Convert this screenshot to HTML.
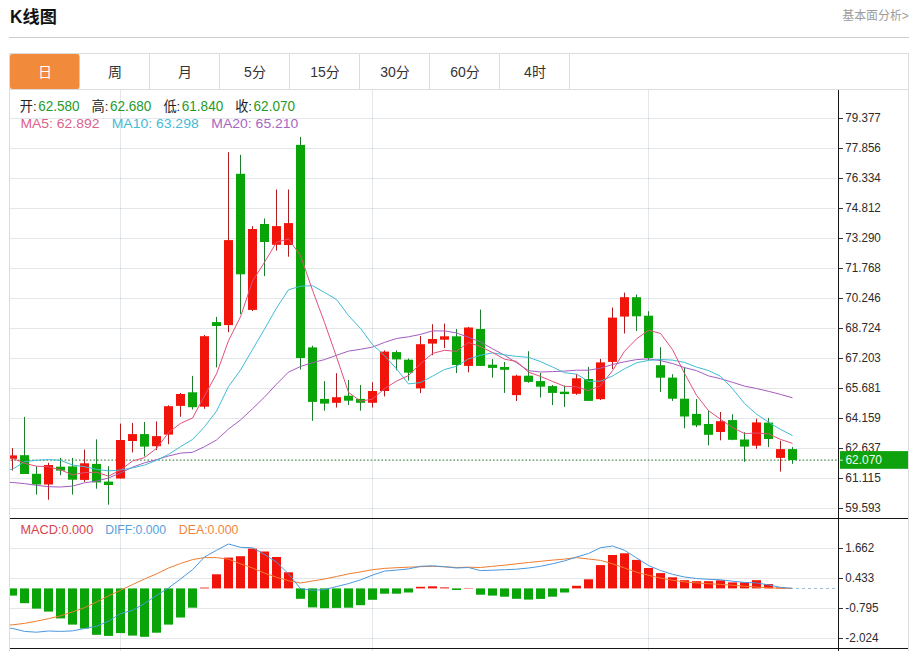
<!DOCTYPE html>
<html lang="zh-CN"><head><meta charset="utf-8"><title>K线图</title>
<style>html,body{margin:0;padding:0;background:#fff;}body{width:914px;height:651px;overflow:hidden;font-family:"Liberation Sans","Noto Sans CJK SC",sans-serif;}svg{display:block;}text{font-family:"Liberation Sans","Noto Sans CJK SC",sans-serif;}</style></head><body>
<svg width="914" height="651" viewBox="0 0 914 651">
<defs><clipPath id="cp"><rect x="10" y="90" width="828" height="561"/></clipPath></defs>
<rect width="914" height="651" fill="#fff"/>
<text x="10.1" y="22.8" font-size="17.5" font-weight="bold" fill="#111" textLength="46.7" lengthAdjust="spacingAndGlyphs">K线图</text>
<text x="842.3" y="20.2" font-size="12" fill="#9c9c9c" textLength="66.5" lengthAdjust="spacingAndGlyphs">基本面分析&gt;</text>
<rect x="9" y="37" width="900" height="1" fill="#ccc"/>
<rect x="9.5" y="53.5" width="899" height="36" fill="#fff" stroke="#dcdcdc" stroke-width="1"/>
<rect x="10" y="54" width="69.5" height="35" rx="2.2" fill="#f18a3b"/>
<text x="45" y="77" font-size="14" fill="#fff" text-anchor="middle">日</text>
<text x="115" y="77" font-size="14" fill="#333" text-anchor="middle">周</text>
<rect x="149" y="54" width="1" height="35" fill="#dcdcdc"/>
<text x="185" y="77" font-size="14" fill="#333" text-anchor="middle">月</text>
<rect x="219" y="54" width="1" height="35" fill="#dcdcdc"/>
<text x="255" y="77" font-size="14" fill="#333" text-anchor="middle">5分</text>
<rect x="289" y="54" width="1" height="35" fill="#dcdcdc"/>
<text x="325" y="77" font-size="14" fill="#333" text-anchor="middle">15分</text>
<rect x="359" y="54" width="1" height="35" fill="#dcdcdc"/>
<text x="395" y="77" font-size="14" fill="#333" text-anchor="middle">30分</text>
<rect x="429" y="54" width="1" height="35" fill="#dcdcdc"/>
<text x="465" y="77" font-size="14" fill="#333" text-anchor="middle">60分</text>
<rect x="499" y="54" width="1" height="35" fill="#dcdcdc"/>
<text x="535" y="77" font-size="14" fill="#333" text-anchor="middle">4时</text>
<rect x="569" y="54" width="1" height="35" fill="#dcdcdc"/>
<rect x="9" y="90" width="1" height="561" fill="#dcdcdc"/>
<rect x="908" y="54" width="1" height="597" fill="#dcdcdc"/>
<rect x="10" y="118" width="826" height="1" fill="#7e8c9e" fill-opacity="0.21"/>
<rect x="10" y="148" width="826" height="1" fill="#7e8c9e" fill-opacity="0.21"/>
<rect x="10" y="178" width="826" height="1" fill="#7e8c9e" fill-opacity="0.21"/>
<rect x="10" y="208" width="826" height="1" fill="#7e8c9e" fill-opacity="0.21"/>
<rect x="10" y="238" width="826" height="1" fill="#7e8c9e" fill-opacity="0.21"/>
<rect x="10" y="268" width="826" height="1" fill="#7e8c9e" fill-opacity="0.21"/>
<rect x="10" y="298" width="826" height="1" fill="#7e8c9e" fill-opacity="0.21"/>
<rect x="10" y="328" width="826" height="1" fill="#7e8c9e" fill-opacity="0.21"/>
<rect x="10" y="358" width="826" height="1" fill="#7e8c9e" fill-opacity="0.21"/>
<rect x="10" y="388" width="826" height="1" fill="#7e8c9e" fill-opacity="0.21"/>
<rect x="10" y="418" width="826" height="1" fill="#7e8c9e" fill-opacity="0.21"/>
<rect x="10" y="448" width="826" height="1" fill="#7e8c9e" fill-opacity="0.21"/>
<rect x="10" y="478" width="826" height="1" fill="#7e8c9e" fill-opacity="0.21"/>
<rect x="10" y="508" width="826" height="1" fill="#7e8c9e" fill-opacity="0.21"/>
<rect x="10" y="548" width="826" height="1" fill="#7e8c9e" fill-opacity="0.21"/>
<rect x="10" y="578" width="826" height="1" fill="#7e8c9e" fill-opacity="0.21"/>
<rect x="10" y="608" width="826" height="1" fill="#7e8c9e" fill-opacity="0.21"/>
<rect x="10" y="638" width="826" height="1" fill="#7e8c9e" fill-opacity="0.21"/>
<rect x="120" y="90" width="1" height="561" fill="#7e8c9e" fill-opacity="0.21"/>
<rect x="372" y="90" width="1" height="561" fill="#7e8c9e" fill-opacity="0.21"/>
<rect x="648" y="90" width="1" height="561" fill="#7e8c9e" fill-opacity="0.21"/>
<g clip-path="url(#cp)">
<line x1="10.6" y1="460.1" x2="838" y2="460.1" stroke="#4a8c50" stroke-width="1.15" stroke-dasharray="1.6 2"/>
<rect x="12" y="448.1" width="1" height="22.5" fill="#b01c20"/>
<rect x="8" y="455.4" width="9" height="3.4" fill="#f0140a"/>
<rect x="24" y="416.9" width="1" height="57.1" fill="#1e7a2c"/>
<rect x="20" y="455.2" width="9" height="18.8" fill="#08a408"/>
<rect x="36" y="466.2" width="1" height="28.4" fill="#1e7a2c"/>
<rect x="32" y="473.8" width="9" height="10.7" fill="#08a408"/>
<rect x="48" y="462.8" width="1" height="36.9" fill="#b01c20"/>
<rect x="44" y="465.0" width="9" height="19.5" fill="#f0140a"/>
<rect x="60" y="457.9" width="1" height="17.3" fill="#1e7a2c"/>
<rect x="56" y="466.7" width="9" height="3.9" fill="#08a408"/>
<rect x="72" y="457.9" width="1" height="36.7" fill="#1e7a2c"/>
<rect x="68" y="466.4" width="9" height="13.3" fill="#08a408"/>
<rect x="84" y="449.5" width="1" height="32.4" fill="#b01c20"/>
<rect x="80" y="463.3" width="9" height="16.6" fill="#f0140a"/>
<rect x="96" y="439.4" width="1" height="49.3" fill="#1e7a2c"/>
<rect x="92" y="463.9" width="9" height="18.5" fill="#08a408"/>
<rect x="108" y="466.2" width="1" height="38.5" fill="#1e7a2c"/>
<rect x="104" y="481.6" width="9" height="3.4" fill="#08a408"/>
<rect x="120" y="423.6" width="1" height="54.9" fill="#b01c20"/>
<rect x="116" y="440.0" width="9" height="38.5" fill="#f0140a"/>
<rect x="132" y="422.9" width="1" height="29.5" fill="#b01c20"/>
<rect x="128" y="434.1" width="9" height="6.9" fill="#f0140a"/>
<rect x="144" y="422.0" width="1" height="34.5" fill="#1e7a2c"/>
<rect x="140" y="434.1" width="9" height="12.5" fill="#08a408"/>
<rect x="156" y="421.4" width="1" height="28.7" fill="#b01c20"/>
<rect x="152" y="436.1" width="9" height="10.1" fill="#f0140a"/>
<rect x="168" y="405.3" width="1" height="38.9" fill="#b01c20"/>
<rect x="164" y="406.2" width="9" height="28.4" fill="#f0140a"/>
<rect x="180" y="393.0" width="1" height="23.8" fill="#b01c20"/>
<rect x="176" y="394.0" width="9" height="11.9" fill="#f0140a"/>
<rect x="192" y="375.9" width="1" height="33.6" fill="#1e7a2c"/>
<rect x="188" y="392.3" width="9" height="14.9" fill="#08a408"/>
<rect x="204" y="335.0" width="1" height="73.8" fill="#b01c20"/>
<rect x="200" y="336.2" width="9" height="70.5" fill="#f0140a"/>
<rect x="216" y="316.9" width="1" height="50.5" fill="#1e7a2c"/>
<rect x="212" y="322.1" width="9" height="3.9" fill="#08a408"/>
<rect x="228" y="152.2" width="1" height="180.0" fill="#b01c20"/>
<rect x="224" y="240.1" width="9" height="85.0" fill="#f0140a"/>
<rect x="240" y="154.9" width="1" height="159.2" fill="#1e7a2c"/>
<rect x="236" y="173.8" width="9" height="100.5" fill="#08a408"/>
<rect x="252" y="226.1" width="1" height="84.9" fill="#b01c20"/>
<rect x="248" y="229.0" width="9" height="80.9" fill="#f0140a"/>
<rect x="264" y="218.5" width="1" height="57.6" fill="#1e7a2c"/>
<rect x="260" y="224.0" width="9" height="18.0" fill="#08a408"/>
<rect x="276" y="189.5" width="1" height="61.1" fill="#b01c20"/>
<rect x="272" y="226.1" width="9" height="18.7" fill="#f0140a"/>
<rect x="288" y="189.5" width="1" height="67.2" fill="#b01c20"/>
<rect x="284" y="223.1" width="9" height="21.9" fill="#f0140a"/>
<rect x="300" y="136.9" width="1" height="232.6" fill="#1e7a2c"/>
<rect x="296" y="144.9" width="9" height="213.1" fill="#08a408"/>
<rect x="312" y="345.7" width="1" height="75.1" fill="#1e7a2c"/>
<rect x="308" y="347.4" width="9" height="54.5" fill="#08a408"/>
<rect x="324" y="381.1" width="1" height="29.6" fill="#1e7a2c"/>
<rect x="320" y="398.9" width="9" height="4.7" fill="#08a408"/>
<rect x="336" y="373.2" width="1" height="34.3" fill="#b01c20"/>
<rect x="332" y="397.2" width="9" height="5.6" fill="#f0140a"/>
<rect x="348" y="380.0" width="1" height="25.0" fill="#1e7a2c"/>
<rect x="344" y="395.7" width="9" height="5.0" fill="#08a408"/>
<rect x="360" y="385.0" width="1" height="25.7" fill="#1e7a2c"/>
<rect x="356" y="398.9" width="9" height="3.9" fill="#08a408"/>
<rect x="372" y="382.2" width="1" height="25.3" fill="#b01c20"/>
<rect x="368" y="391.0" width="9" height="11.8" fill="#f0140a"/>
<rect x="384" y="350.4" width="1" height="46.0" fill="#b01c20"/>
<rect x="380" y="351.6" width="9" height="39.4" fill="#f0140a"/>
<rect x="396" y="350.4" width="1" height="19.9" fill="#1e7a2c"/>
<rect x="392" y="352.1" width="9" height="7.3" fill="#08a408"/>
<rect x="408" y="358.5" width="1" height="22.0" fill="#1e7a2c"/>
<rect x="404" y="359.7" width="9" height="13.0" fill="#08a408"/>
<rect x="420" y="336.0" width="1" height="57.1" fill="#b01c20"/>
<rect x="416" y="344.2" width="9" height="44.2" fill="#f0140a"/>
<rect x="432" y="324.2" width="1" height="31.0" fill="#b01c20"/>
<rect x="428" y="339.0" width="9" height="4.6" fill="#f0140a"/>
<rect x="444" y="323.6" width="1" height="24.5" fill="#b01c20"/>
<rect x="440" y="336.3" width="9" height="3.4" fill="#f0140a"/>
<rect x="456" y="329.0" width="1" height="44.0" fill="#1e7a2c"/>
<rect x="452" y="336.3" width="9" height="28.7" fill="#08a408"/>
<rect x="468" y="327.0" width="1" height="45.3" fill="#b01c20"/>
<rect x="464" y="327.5" width="9" height="38.4" fill="#f0140a"/>
<rect x="480" y="309.6" width="1" height="56.3" fill="#1e7a2c"/>
<rect x="476" y="329.0" width="9" height="36.9" fill="#08a408"/>
<rect x="492" y="359.1" width="1" height="18.6" fill="#1e7a2c"/>
<rect x="488" y="364.7" width="9" height="3.2" fill="#08a408"/>
<rect x="504" y="362.0" width="1" height="30.9" fill="#1e7a2c"/>
<rect x="500" y="367.0" width="9" height="2.8" fill="#08a408"/>
<rect x="516" y="374.8" width="1" height="26.2" fill="#b01c20"/>
<rect x="512" y="375.7" width="9" height="19.4" fill="#f0140a"/>
<rect x="528" y="351.2" width="1" height="31.6" fill="#1e7a2c"/>
<rect x="524" y="375.7" width="9" height="6.2" fill="#08a408"/>
<rect x="540" y="373.0" width="1" height="24.5" fill="#1e7a2c"/>
<rect x="536" y="381.1" width="9" height="5.6" fill="#08a408"/>
<rect x="552" y="385.0" width="1" height="20.0" fill="#1e7a2c"/>
<rect x="548" y="386.1" width="9" height="6.8" fill="#08a408"/>
<rect x="564" y="385.6" width="1" height="21.3" fill="#1e7a2c"/>
<rect x="560" y="391.7" width="9" height="2.4" fill="#08a408"/>
<rect x="576" y="374.2" width="1" height="20.6" fill="#b01c20"/>
<rect x="572" y="378.3" width="9" height="15.5" fill="#f0140a"/>
<rect x="588" y="366.9" width="1" height="34.0" fill="#1e7a2c"/>
<rect x="584" y="379.0" width="9" height="21.9" fill="#08a408"/>
<rect x="600" y="358.8" width="1" height="41.2" fill="#b01c20"/>
<rect x="596" y="362.4" width="9" height="36.8" fill="#f0140a"/>
<rect x="612" y="307.5" width="1" height="61.5" fill="#b01c20"/>
<rect x="608" y="317.6" width="9" height="44.3" fill="#f0140a"/>
<rect x="624" y="292.6" width="1" height="40.9" fill="#b01c20"/>
<rect x="620" y="297.2" width="9" height="19.4" fill="#f0140a"/>
<rect x="636" y="294.6" width="1" height="36.4" fill="#1e7a2c"/>
<rect x="632" y="297.2" width="9" height="19.1" fill="#08a408"/>
<rect x="648" y="311.2" width="1" height="49.0" fill="#1e7a2c"/>
<rect x="644" y="315.7" width="9" height="42.3" fill="#08a408"/>
<rect x="660" y="347.2" width="1" height="44.7" fill="#1e7a2c"/>
<rect x="656" y="365.2" width="9" height="12.5" fill="#08a408"/>
<rect x="672" y="374.2" width="1" height="26.7" fill="#1e7a2c"/>
<rect x="668" y="377.6" width="9" height="21.1" fill="#08a408"/>
<rect x="684" y="367.3" width="1" height="61.0" fill="#1e7a2c"/>
<rect x="680" y="398.7" width="9" height="17.8" fill="#08a408"/>
<rect x="696" y="399.0" width="1" height="28.1" fill="#1e7a2c"/>
<rect x="692" y="413.9" width="9" height="11.5" fill="#08a408"/>
<rect x="708" y="410.4" width="1" height="35.0" fill="#1e7a2c"/>
<rect x="704" y="424.0" width="9" height="10.8" fill="#08a408"/>
<rect x="720" y="412.0" width="1" height="28.3" fill="#b01c20"/>
<rect x="716" y="421.2" width="9" height="10.8" fill="#f0140a"/>
<rect x="732" y="414.2" width="1" height="26.0" fill="#1e7a2c"/>
<rect x="728" y="420.1" width="9" height="19.7" fill="#08a408"/>
<rect x="744" y="432.2" width="1" height="29.6" fill="#1e7a2c"/>
<rect x="740" y="439.5" width="9" height="7.1" fill="#08a408"/>
<rect x="756" y="418.7" width="1" height="30.1" fill="#b01c20"/>
<rect x="752" y="422.4" width="9" height="23.3" fill="#f0140a"/>
<rect x="768" y="417.9" width="1" height="29.2" fill="#1e7a2c"/>
<rect x="764" y="422.6" width="9" height="16.4" fill="#08a408"/>
<rect x="780" y="440.7" width="1" height="30.9" fill="#b01c20"/>
<rect x="776" y="449.1" width="9" height="8.8" fill="#f0140a"/>
<rect x="792" y="447.1" width="1" height="16.7" fill="#1e7a2c"/>
<rect x="788" y="449.1" width="9" height="11.0" fill="#08a408"/>
<polyline points="0.5,482.0 12.5,482.5 24.5,483.6 36.5,485.3 48.5,486.7 60.5,487.0 72.5,486.1 84.5,482.8 96.5,481.1 108.5,478.0 120.5,473.0 132.5,467.2 144.5,462.8 156.5,459.7 168.5,456.0 180.5,453.1 192.5,452.3 204.5,446.7 216.5,440.0 228.5,429.0 240.5,420.0 252.5,408.7 264.5,397.1 276.5,384.2 288.5,372.1 300.5,366.5 312.5,362.6 324.5,359.6 336.5,355.3 348.5,351.1 360.5,349.3 372.5,347.1 384.5,342.4 396.5,338.5 408.5,336.8 420.5,334.4 432.5,330.9 444.5,330.9 456.5,332.9 468.5,337.3 480.5,341.9 492.5,348.8 504.5,355.2 516.5,362.7 528.5,370.6 540.5,372.0 552.5,371.6 564.5,371.1 576.5,370.2 588.5,370.2 600.5,368.2 612.5,364.5 624.5,361.8 636.5,359.6 648.5,358.9 660.5,360.6 672.5,363.5 684.5,367.6 696.5,370.6 708.5,375.9 720.5,378.7 732.5,382.3 744.5,386.1 756.5,388.5 768.5,391.3 780.5,394.4 792.5,397.8" fill="none" stroke="#a55cc0" stroke-width="1.0" stroke-linejoin="round"/>
<polyline points="0.5,471.0 12.5,469.3 24.5,461.7 36.5,460.3 48.5,459.6 60.5,460.3 72.5,465.0 84.5,466.7 96.5,469.3 108.5,470.9 120.5,470.0 132.5,467.9 144.5,465.1 156.5,460.3 168.5,454.4 180.5,446.7 192.5,439.5 204.5,426.8 216.5,411.1 228.5,386.6 240.5,370.1 252.5,349.6 264.5,329.1 276.5,308.1 288.5,289.8 300.5,286.2 312.5,285.7 324.5,292.4 336.5,299.5 348.5,315.6 360.5,328.4 372.5,344.6 384.5,355.6 396.5,368.9 408.5,383.9 420.5,382.5 432.5,376.2 444.5,369.5 456.5,366.3 468.5,358.9 480.5,355.3 492.5,352.9 504.5,354.8 516.5,356.4 528.5,357.3 540.5,361.6 552.5,367.0 564.5,372.7 576.5,374.1 588.5,381.4 600.5,381.1 612.5,376.0 624.5,368.8 636.5,362.8 648.5,360.4 660.5,359.5 672.5,360.1 684.5,362.4 696.5,367.1 708.5,370.5 720.5,376.3 732.5,388.6 744.5,403.5 756.5,414.1 768.5,422.2 780.5,429.4 792.5,435.5" fill="none" stroke="#3fbcd6" stroke-width="1.0" stroke-linejoin="round"/>
<polyline points="0.5,457.0 12.5,458.3 24.5,463.3 36.5,466.2 48.5,466.7 60.5,469.9 72.5,474.8 84.5,472.6 96.5,472.2 108.5,476.2 120.5,470.1 132.5,461.0 144.5,457.6 156.5,448.4 168.5,432.6 180.5,423.4 192.5,418.0 204.5,395.9 216.5,373.9 228.5,340.7 240.5,316.8 252.5,281.1 264.5,262.3 276.5,242.3 288.5,238.9 300.5,255.6 312.5,290.2 324.5,322.5 336.5,356.8 348.5,392.3 360.5,401.2 372.5,399.1 384.5,388.7 396.5,381.1 408.5,375.5 420.5,363.8 432.5,353.4 444.5,350.3 456.5,351.4 468.5,342.4 480.5,346.7 492.5,352.5 504.5,359.2 516.5,361.4 528.5,372.2 540.5,376.4 552.5,381.4 564.5,386.3 576.5,386.8 588.5,390.6 600.5,385.7 612.5,370.7 624.5,351.3 636.5,338.9 648.5,330.3 660.5,333.4 672.5,349.6 684.5,373.4 696.5,395.3 708.5,410.6 720.5,419.3 732.5,427.5 744.5,433.6 756.5,433.0 768.5,433.8 780.5,439.4 792.5,443.4" fill="none" stroke="#e0507c" stroke-width="1.0" stroke-linejoin="round"/>
<rect x="8" y="588.4" width="9" height="7.2" fill="#08a408"/>
<rect x="20" y="588.4" width="9" height="14.8" fill="#08a408"/>
<rect x="32" y="588.4" width="9" height="20.2" fill="#08a408"/>
<rect x="44" y="588.4" width="9" height="23.2" fill="#08a408"/>
<rect x="56" y="588.4" width="9" height="30.0" fill="#08a408"/>
<rect x="68" y="588.4" width="9" height="36.2" fill="#08a408"/>
<rect x="80" y="588.4" width="9" height="40.1" fill="#08a408"/>
<rect x="92" y="588.4" width="9" height="46.4" fill="#08a408"/>
<rect x="104" y="588.4" width="9" height="47.5" fill="#08a408"/>
<rect x="116" y="588.4" width="9" height="44.7" fill="#08a408"/>
<rect x="128" y="588.4" width="9" height="47.2" fill="#08a408"/>
<rect x="140" y="588.4" width="9" height="48.4" fill="#08a408"/>
<rect x="152" y="588.4" width="9" height="44.3" fill="#08a408"/>
<rect x="164" y="588.4" width="9" height="36.2" fill="#08a408"/>
<rect x="176" y="588.4" width="9" height="29.1" fill="#08a408"/>
<rect x="188" y="588.4" width="9" height="19.3" fill="#08a408"/>
<rect x="200" y="587.6" width="9" height="0.8" fill="#f0140a"/>
<rect x="212" y="574.3" width="9" height="14.1" fill="#f0140a"/>
<rect x="224" y="557.6" width="9" height="30.8" fill="#f0140a"/>
<rect x="236" y="556.2" width="9" height="32.2" fill="#f0140a"/>
<rect x="248" y="548.6" width="9" height="39.8" fill="#f0140a"/>
<rect x="260" y="551.5" width="9" height="36.9" fill="#f0140a"/>
<rect x="272" y="557.0" width="9" height="31.4" fill="#f0140a"/>
<rect x="284" y="572.3" width="9" height="16.1" fill="#f0140a"/>
<rect x="296" y="588.4" width="9" height="10.4" fill="#08a408"/>
<rect x="308" y="588.4" width="9" height="19.0" fill="#08a408"/>
<rect x="320" y="588.4" width="9" height="19.8" fill="#08a408"/>
<rect x="332" y="588.4" width="9" height="19.5" fill="#08a408"/>
<rect x="344" y="588.4" width="9" height="19.3" fill="#08a408"/>
<rect x="356" y="588.4" width="9" height="16.8" fill="#08a408"/>
<rect x="368" y="588.4" width="9" height="11.4" fill="#08a408"/>
<rect x="380" y="588.4" width="9" height="5.3" fill="#08a408"/>
<rect x="392" y="588.4" width="9" height="5.3" fill="#08a408"/>
<rect x="404" y="588.4" width="9" height="4.1" fill="#08a408"/>
<rect x="416" y="586.8" width="9" height="1.6" fill="#f0140a"/>
<rect x="428" y="586.3" width="9" height="2.1" fill="#f0140a"/>
<rect x="440" y="587.4" width="9" height="1.0" fill="#f0140a"/>
<rect x="452" y="588.4" width="9" height="1.6" fill="#08a408"/>
<rect x="464" y="588.0" width="9" height="0.4" fill="#f0140a"/>
<rect x="476" y="588.4" width="9" height="6.3" fill="#08a408"/>
<rect x="488" y="588.4" width="9" height="7.2" fill="#08a408"/>
<rect x="500" y="588.4" width="9" height="8.3" fill="#08a408"/>
<rect x="512" y="588.4" width="9" height="10.4" fill="#08a408"/>
<rect x="524" y="588.4" width="9" height="11.2" fill="#08a408"/>
<rect x="536" y="588.4" width="9" height="10.5" fill="#08a408"/>
<rect x="548" y="588.4" width="9" height="8.3" fill="#08a408"/>
<rect x="560" y="588.4" width="9" height="4.1" fill="#08a408"/>
<rect x="572" y="585.8" width="9" height="2.6" fill="#f0140a"/>
<rect x="584" y="579.3" width="9" height="9.1" fill="#f0140a"/>
<rect x="596" y="565.1" width="9" height="23.3" fill="#f0140a"/>
<rect x="608" y="555.0" width="9" height="33.4" fill="#f0140a"/>
<rect x="620" y="553.3" width="9" height="35.1" fill="#f0140a"/>
<rect x="632" y="559.9" width="9" height="28.5" fill="#f0140a"/>
<rect x="644" y="568.0" width="9" height="20.4" fill="#f0140a"/>
<rect x="656" y="573.1" width="9" height="15.3" fill="#f0140a"/>
<rect x="668" y="577.3" width="9" height="11.1" fill="#f0140a"/>
<rect x="680" y="580.2" width="9" height="8.2" fill="#f0140a"/>
<rect x="692" y="581.2" width="9" height="7.2" fill="#f0140a"/>
<rect x="704" y="581.2" width="9" height="7.2" fill="#f0140a"/>
<rect x="716" y="580.3" width="9" height="8.1" fill="#f0140a"/>
<rect x="728" y="582.4" width="9" height="6.0" fill="#f0140a"/>
<rect x="740" y="582.4" width="9" height="6.0" fill="#f0140a"/>
<rect x="752" y="580.2" width="9" height="8.2" fill="#f0140a"/>
<rect x="764" y="584.1" width="9" height="4.3" fill="#f0140a"/>
<rect x="776" y="587.5" width="9" height="0.9" fill="#f0140a"/>
<polyline points="0.5,625.6 12.5,624.8 24.5,623.4 36.5,621.2 48.5,618.7 60.5,615.8 72.5,611.9 84.5,607.7 96.5,602.1 108.5,595.9 120.5,590.3 132.5,584.6 144.5,579.0 156.5,573.9 168.5,568.0 180.5,563.5 192.5,559.6 204.5,557.6 216.5,557.6 228.5,559.2 240.5,563.8 252.5,568.0 264.5,573.1 276.5,577.3 288.5,580.7 300.5,583.0 312.5,581.0 324.5,579.0 336.5,576.5 348.5,573.9 360.5,571.9 372.5,569.7 384.5,568.4 396.5,567.7 408.5,567.2 420.5,566.7 432.5,566.3 444.5,566.8 456.5,567.5 468.5,567.2 480.5,567.5 492.5,566.3 504.5,565.2 516.5,563.8 528.5,562.5 540.5,561.3 552.5,560.1 564.5,559.1 576.5,557.6 588.5,559.0 600.5,560.4 612.5,563.8 624.5,568.0 636.5,572.2 648.5,575.3 660.5,578.1 672.5,580.2 684.5,581.9 696.5,582.9 708.5,583.7 720.5,584.4 732.5,585.2 744.5,586.2 756.5,587.1 768.5,587.8 780.5,588.3 792.5,588.4" fill="none" stroke="#f07c30" stroke-width="1.0" stroke-linejoin="round"/>
<polyline points="0.5,627.3 12.5,628.4 24.5,631.4 36.5,632.2 48.5,631.0 60.5,631.4 72.5,630.9 84.5,628.5 96.5,626.3 108.5,621.2 120.5,613.6 132.5,610.3 144.5,603.5 156.5,595.4 168.5,588.0 180.5,579.0 192.5,569.7 204.5,557.0 216.5,550.3 228.5,544.0 240.5,547.3 252.5,547.8 264.5,554.5 276.5,562.1 288.5,573.9 300.5,588.6 312.5,590.3 324.5,589.6 336.5,586.6 348.5,583.6 360.5,579.9 372.5,575.1 384.5,571.1 396.5,570.1 408.5,568.9 420.5,566.3 432.5,565.8 444.5,566.7 456.5,568.0 468.5,567.5 480.5,570.6 492.5,570.2 504.5,569.7 516.5,569.2 528.5,568.0 540.5,566.3 552.5,563.8 564.5,560.9 576.5,557.0 588.5,553.5 600.5,547.7 612.5,546.0 624.5,550.3 636.5,557.9 648.5,565.5 660.5,570.5 672.5,574.3 684.5,577.0 696.5,578.5 708.5,579.3 720.5,579.8 732.5,581.2 744.5,582.4 756.5,582.9 768.5,584.9 780.5,587.4 792.5,588.3" fill="none" stroke="#4a98de" stroke-width="1.0" stroke-linejoin="round"/>
<line x1="796" y1="588.5" x2="838" y2="588.5" stroke="#9cc0d6" stroke-width="1" stroke-dasharray="3 3"/>
</g>
<rect x="10" y="518" width="898" height="1" fill="#151515"/>
<rect x="10" y="648" width="898" height="1" fill="#151515"/>
<rect x="838" y="90" width="1" height="561" fill="#151515"/>
<rect x="839" y="118" width="4" height="1" fill="#333"/>
<text x="845.3" y="122.3" font-size="12" fill="#2c2c2c" textLength="35.5" lengthAdjust="spacingAndGlyphs">79.377</text>
<rect x="839" y="148" width="4" height="1" fill="#333"/>
<text x="845.3" y="152.3" font-size="12" fill="#2c2c2c" textLength="35.5" lengthAdjust="spacingAndGlyphs">77.856</text>
<rect x="839" y="178" width="4" height="1" fill="#333"/>
<text x="845.3" y="182.3" font-size="12" fill="#2c2c2c" textLength="35.5" lengthAdjust="spacingAndGlyphs">76.334</text>
<rect x="839" y="208" width="4" height="1" fill="#333"/>
<text x="845.3" y="212.3" font-size="12" fill="#2c2c2c" textLength="35.5" lengthAdjust="spacingAndGlyphs">74.812</text>
<rect x="839" y="238" width="4" height="1" fill="#333"/>
<text x="845.3" y="242.3" font-size="12" fill="#2c2c2c" textLength="35.5" lengthAdjust="spacingAndGlyphs">73.290</text>
<rect x="839" y="268" width="4" height="1" fill="#333"/>
<text x="845.3" y="272.3" font-size="12" fill="#2c2c2c" textLength="35.5" lengthAdjust="spacingAndGlyphs">71.768</text>
<rect x="839" y="298" width="4" height="1" fill="#333"/>
<text x="845.3" y="302.3" font-size="12" fill="#2c2c2c" textLength="35.5" lengthAdjust="spacingAndGlyphs">70.246</text>
<rect x="839" y="328" width="4" height="1" fill="#333"/>
<text x="845.3" y="332.3" font-size="12" fill="#2c2c2c" textLength="35.5" lengthAdjust="spacingAndGlyphs">68.724</text>
<rect x="839" y="358" width="4" height="1" fill="#333"/>
<text x="845.3" y="362.3" font-size="12" fill="#2c2c2c" textLength="35.5" lengthAdjust="spacingAndGlyphs">67.203</text>
<rect x="839" y="388" width="4" height="1" fill="#333"/>
<text x="845.3" y="392.3" font-size="12" fill="#2c2c2c" textLength="35.5" lengthAdjust="spacingAndGlyphs">65.681</text>
<rect x="839" y="418" width="4" height="1" fill="#333"/>
<text x="845.3" y="422.3" font-size="12" fill="#2c2c2c" textLength="35.5" lengthAdjust="spacingAndGlyphs">64.159</text>
<rect x="839" y="448" width="4" height="1" fill="#333"/>
<text x="845.3" y="452.3" font-size="12" fill="#2c2c2c" textLength="35.5" lengthAdjust="spacingAndGlyphs">62.637</text>
<rect x="839" y="478" width="4" height="1" fill="#333"/>
<text x="845.3" y="482.3" font-size="12" fill="#2c2c2c" textLength="35.5" lengthAdjust="spacingAndGlyphs">61.115</text>
<rect x="839" y="508" width="4" height="1" fill="#333"/>
<text x="845.3" y="512.3" font-size="12" fill="#2c2c2c" textLength="35.5" lengthAdjust="spacingAndGlyphs">59.593</text>
<rect x="839" y="548" width="4" height="1" fill="#333"/>
<text x="845.3" y="552.3" font-size="12" fill="#2c2c2c" textLength="28.9" lengthAdjust="spacingAndGlyphs">1.662</text>
<rect x="839" y="578" width="4" height="1" fill="#333"/>
<text x="845.3" y="582.3" font-size="12" fill="#2c2c2c" textLength="28.9" lengthAdjust="spacingAndGlyphs">0.433</text>
<rect x="839" y="608" width="4" height="1" fill="#333"/>
<text x="845.3" y="612.3" font-size="12" fill="#2c2c2c" textLength="33.3" lengthAdjust="spacingAndGlyphs">-0.795</text>
<rect x="839" y="638" width="4" height="1" fill="#333"/>
<text x="845.3" y="642.3" font-size="12" fill="#2c2c2c" textLength="33.3" lengthAdjust="spacingAndGlyphs">-2.024</text>
<rect x="840" y="451.1" width="68" height="17.7" fill="#0fa20f"/>
<rect x="840" y="459.7" width="3" height="1" fill="#c8f0c8"/>
<text x="845.5" y="464.4" font-size="12" fill="#eaffea" textLength="36.4" lengthAdjust="spacingAndGlyphs">62.070</text>
<text x="19.8" y="110.6" font-size="13.2" fill="#222">开:</text>
<text x="38.2" y="110.7" font-size="14.4" fill="#1f9a2a" textLength="41.4" lengthAdjust="spacingAndGlyphs">62.580</text>
<text x="91.6" y="110.6" font-size="13.2" fill="#222">高:</text>
<text x="110.0" y="110.7" font-size="14.4" fill="#1f9a2a" textLength="41.4" lengthAdjust="spacingAndGlyphs">62.680</text>
<text x="163.4" y="110.6" font-size="13.2" fill="#222">低:</text>
<text x="181.8" y="110.7" font-size="14.4" fill="#1f9a2a" textLength="41.4" lengthAdjust="spacingAndGlyphs">61.840</text>
<text x="235.2" y="110.6" font-size="13.2" fill="#222">收:</text>
<text x="253.6" y="110.7" font-size="14.4" fill="#1f9a2a" textLength="41.4" lengthAdjust="spacingAndGlyphs">62.070</text>
<text x="20.4" y="128.1" font-size="13.3" fill="#dd5f8a" textLength="79.0" lengthAdjust="spacingAndGlyphs">MA5: 62.892</text>
<text x="111.7" y="128.1" font-size="13.3" fill="#45bbd6" textLength="87.0" lengthAdjust="spacingAndGlyphs">MA10: 63.298</text>
<text x="211.3" y="128.1" font-size="13.3" fill="#a866c4" textLength="87.1" lengthAdjust="spacingAndGlyphs">MA20: 65.210</text>
<text x="20.5" y="534.0" font-size="13" fill="#d9434d" textLength="72.7" lengthAdjust="spacingAndGlyphs">MACD:0.000</text>
<text x="105.2" y="534.0" font-size="13" fill="#559fdf" textLength="60.9" lengthAdjust="spacingAndGlyphs">DIFF:0.000</text>
<text x="178.8" y="534.0" font-size="13" fill="#ee8640" textLength="59.6" lengthAdjust="spacingAndGlyphs">DEA:0.000</text>
</svg></body></html>
